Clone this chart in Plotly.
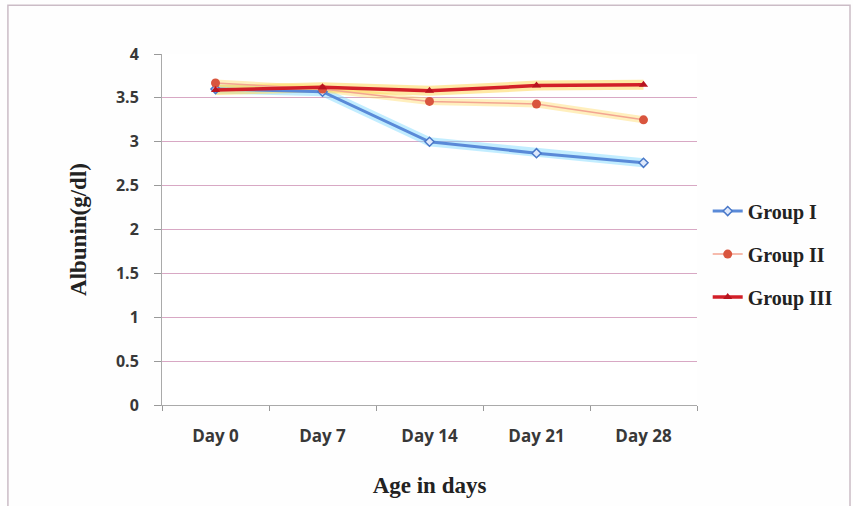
import plotly.graph_objects as go

days = ["Day 0", "Day 7", "Day 14", "Day 21", "Day 28"]
group_1 = [3.60, 3.57, 3.00, 2.87, 2.76]
group_2 = [3.67, 3.60, 3.46, 3.43, 3.25]
group_3 = [3.59, 3.62, 3.58, 3.64, 3.65]

y_ticks = [0, 0.5, 1, 1.5, 2, 2.5, 3, 3.5, 4]

fig = go.Figure()

# soft halo beneath each series
halos = [
    (group_1, "rgba(120,215,255,0.45)", 9),
    (group_2, "rgba(255,215,90,0.40)", 7),
    (group_3, "rgba(255,215,90,0.55)", 10),
]
for vals, col, w in halos:
    fig.add_trace(go.Scatter(
        x=days, y=vals, mode="lines", line=dict(color=col, width=w),
        showlegend=False, hoverinfo="skip"))

fig.add_trace(go.Scatter(
    x=days, y=group_1, name="Group I", legendgroup="g1",
    mode="lines+markers",
    line=dict(color="#5a8ad8", width=3),
    marker=dict(symbol="diamond", size=7, color="#dfe9fb",
                line=dict(color="#4a78c8", width=1.5))))
fig.add_trace(go.Scatter(
    x=days, y=group_2, name="Group II", legendgroup="g2",
    mode="lines+markers",
    line=dict(color="#f3a592", width=1.5),
    marker=dict(symbol="circle", size=9, color="#d9553e")))
fig.add_trace(go.Scatter(
    x=days, y=group_3, name="Group III", legendgroup="g3",
    mode="lines+markers",
    line=dict(color="#d21f28", width=3.5),
    marker=dict(symbol="triangle-up", size=8, color="#b8141e")))

fig.update_layout(
    width=853, height=506,
    margin=dict(l=162, r=156, t=54, b=99),
    paper_bgcolor="#fefefe", plot_bgcolor="#ffffff",
    showlegend=True,
    legend=dict(x=1.02, y=0.43, xanchor="left", yanchor="middle",
                tracegroupgap=14, bgcolor="rgba(0,0,0,0)",
                font=dict(family="Liberation Serif", size=20, color="#222",
                          weight="bold")),
    xaxis=dict(
        type="category", range=[-0.5, 4.5], tickson="boundaries",
        ticks="outside", ticklen=5, ticklabelstandoff=16,
        tickcolor="#999", showline=True, linecolor="#aaa", linewidth=1,
        showgrid=False, zeroline=False,
        tickfont=dict(family="Open Sans", size=17, color="#383838", weight="bold"),
        title=dict(text="Age in days", standoff=30,
                   font=dict(family="Liberation Serif", size=23, color="#222",
                             weight="bold"))),
    yaxis=dict(
        range=[0, 4], tickvals=y_ticks, ticktext=[f"{v:g}" for v in y_ticks],
        ticks="outside", ticklen=7, ticklabelstandoff=12, tickcolor="#999",
        showline=True, linecolor="#aaa", linewidth=1,
        showgrid=True, gridcolor="#d8a8c4", gridwidth=1, zeroline=False,
        tickfont=dict(family="Open Sans", size=16, color="#383838", weight="bold"),
        title=dict(text="Albunin(g/dl)", standoff=22,
                   font=dict(family="Liberation Serif", size=23, color="#222",
                             weight="bold"))),
)

# outer frame of the chart area
fig.add_shape(type="rect", xref="paper", yref="paper",
              x0=-0.288, x1=1.286, y0=-0.32, y1=1.139,
              line=dict(color="#cbbcc6", width=1.5), fillcolor="rgba(0,0,0,0)")

fig.write_html("out.html")
